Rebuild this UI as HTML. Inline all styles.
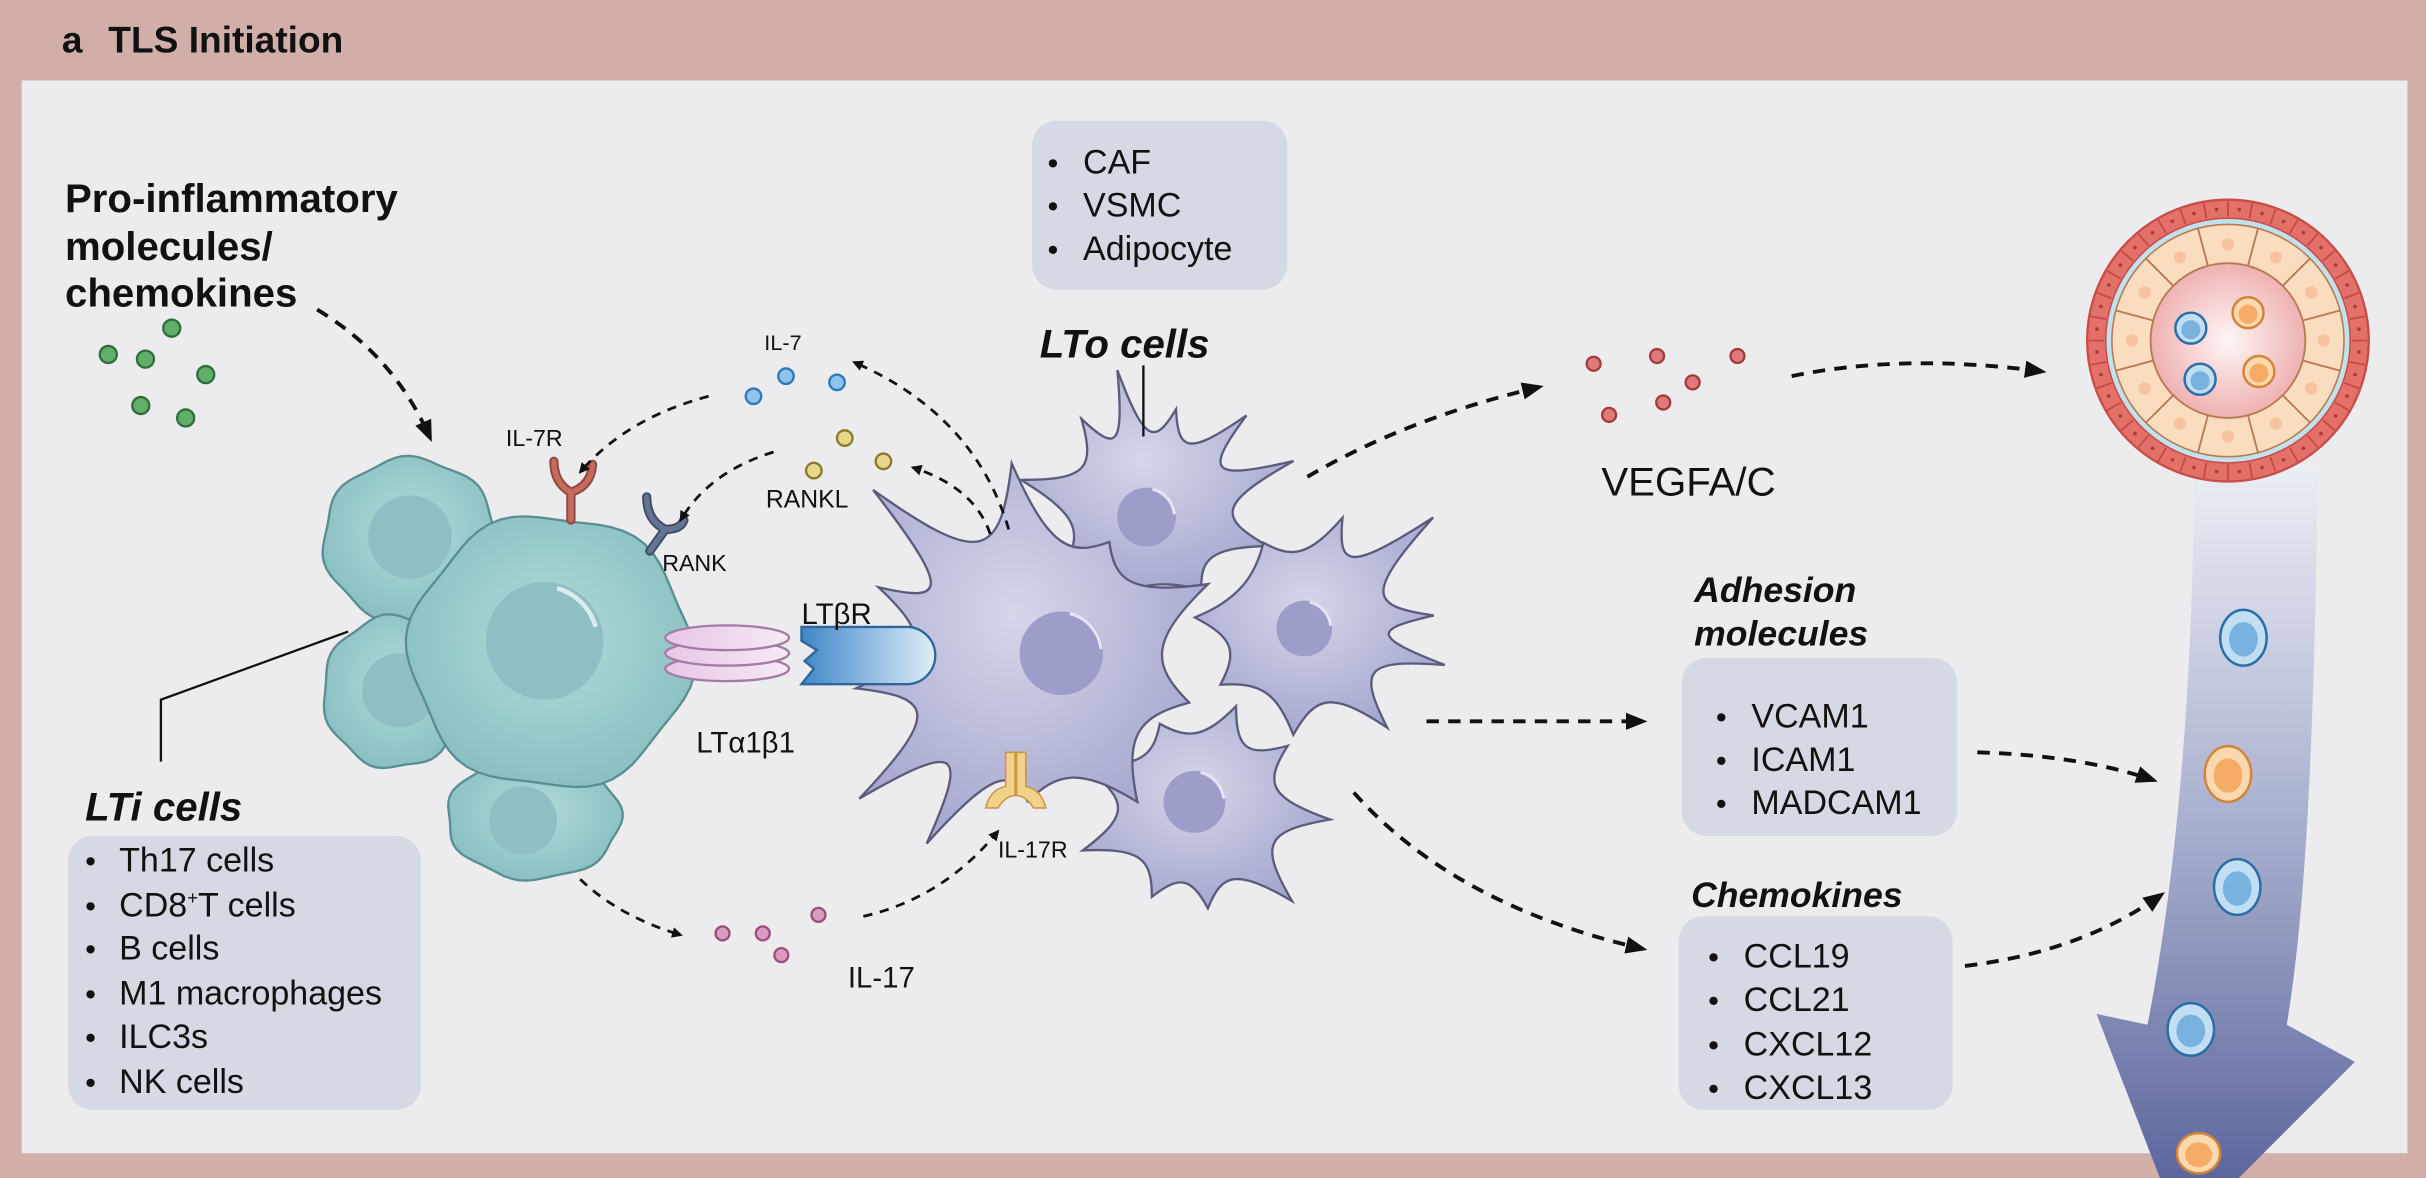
<!DOCTYPE html>
<html><head><meta charset="utf-8"><style>
html,body{margin:0;padding:0;background:#d2aea8;width:2426px;height:1178px;overflow:hidden;}
svg{display:block;}
text{font-family:"Liberation Sans",sans-serif;fill:#111;}
</style></head><body>
<svg id="s" width="2426" height="1178" viewBox="0 0 1568 761" preserveAspectRatio="none" xmlns="http://www.w3.org/2000/svg" overflow="hidden">
<defs>
<marker id="ah" viewBox="0 0 10 10" refX="8" refY="5" markerWidth="7" markerHeight="7" orient="auto" markerUnits="userSpaceOnUse"><path d="M0,0 L10,5 L0,10 z" fill="#111"/></marker>
<marker id="ahb" viewBox="0 0 10 10" refX="8" refY="5" markerWidth="14" markerHeight="14" orient="auto" markerUnits="userSpaceOnUse"><path d="M0,1 L10,5 L0,9 z" fill="#111"/></marker>
<radialGradient id="lto" cx="0.45" cy="0.4" r="0.6"><stop offset="0" stop-color="#d4d6ea"/><stop offset="1" stop-color="#a6a8cf"/></radialGradient>
<radialGradient id="lti" cx="0.5" cy="0.45" r="0.6"><stop offset="0" stop-color="#b3dbd9"/><stop offset="1" stop-color="#86bec0"/></radialGradient>
<linearGradient id="arr" x1="0" y1="0" x2="0" y2="1"><stop offset="0" stop-color="#eceef4"/><stop offset="0.5" stop-color="#a9b0cf"/><stop offset="1" stop-color="#5d679d"/></linearGradient>
<linearGradient id="ltb" x1="0" y1="0" x2="1" y2="0"><stop offset="0" stop-color="#3f86c8"/><stop offset="1" stop-color="#e0eef9"/></linearGradient>
<linearGradient id="ltp" x1="0" y1="0" x2="1" y2="0"><stop offset="0" stop-color="#e8c6e6"/><stop offset="1" stop-color="#f6eaf5"/></linearGradient>
<radialGradient id="lum" cx="0.5" cy="0.5" r="0.5"><stop offset="0" stop-color="#fff6f6"/><stop offset="1" stop-color="#efb1b1"/></radialGradient>
</defs>
<rect x="0" y="0" width="1568" height="761" fill="#d2aea8"/>
<rect x="14" y="52" width="1542" height="693" fill="#ecebee"/>
<text x="40" y="34" font-size="24" font-weight="bold">a</text><text x="70" y="34" font-size="24" font-weight="bold">TLS Initiation</text>

<text font-size="26" font-weight="bold"><tspan x="42" y="137">Pro-inflammatory</tspan><tspan x="42" y="168">molecules/</tspan><tspan x="42" y="198">chemokines</tspan></text>
<g fill="#5fae6a" stroke="#2f6e3a" stroke-width="1.5">
<circle cx="111" cy="212" r="5.5"/><circle cx="70" cy="229" r="5.5"/><circle cx="94" cy="232" r="5.5"/><circle cx="133" cy="242" r="5.5"/><circle cx="91" cy="262" r="5.5"/><circle cx="120" cy="270" r="5.5"/>
</g>
<path d="M205,200 Q255,230 278,283" fill="none" stroke="#111" stroke-width="2.5" stroke-dasharray="8 6" marker-end="url(#ahb)"/>

<g id="lticells" stroke="#5a8e91" stroke-width="1.5"></g>
<path d="M225,408 L104,452 L104,492" fill="none" stroke="#111" stroke-width="1.5"/>
<text x="55" y="530" font-size="26" font-weight="bold" font-style="italic">LTi cells</text>
<rect x="44" y="540" width="228" height="177" rx="16" fill="#d4d9e3"/>
<g font-size="22"><g font-size="20"><text x="55" y="563">•</text><text x="55" y="592">•</text><text x="55" y="620">•</text><text x="55" y="649">•</text><text x="55" y="677">•</text><text x="55" y="706">•</text></g>
<text x="77" y="563">Th17 cells</text><text x="77" y="592">CD8<tspan font-size="12" dy="-8">+</tspan><tspan dy="8">T cells</tspan></text><text x="77" y="620">B cells</text><text x="77" y="649">M1 macrophages</text><text x="77" y="677">ILC3s</text><text x="77" y="706">NK cells</text></g>

<path d="M369,336 L369,318 M369,318 Q358,312 358,298 M369,318 Q382,314 383,300" fill="none" stroke="#8c4a40" stroke-width="6" stroke-linecap="round"/>
<path d="M369,336 L369,318 M369,318 Q358,312 358,298 M369,318 Q382,314 383,300" fill="none" stroke="#c56a5c" stroke-width="3.5" stroke-linecap="round"/>
<path d="M420,356 L430,342 M430,342 Q418,336 418,321 M430,342 Q440,342 442,336" fill="none" stroke="#3e4c66" stroke-width="6" stroke-linecap="round"/>
<path d="M420,356 L430,342 M430,342 Q418,336 418,321 M430,342 Q440,342 442,336" fill="none" stroke="#637593" stroke-width="3.5" stroke-linecap="round"/>
<text x="327" y="288" font-size="15">IL-7R</text>
<text x="428" y="369" font-size="15">RANK</text>

<g id="ltocells" stroke="#5b5c7c" stroke-width="1.5"></g>
<path d="M650,486 L650,508 Q640,510 637,522 L645,522 Q650,514 656,514 L656,486 Z M663,486 L663,508 Q673,510 676,522 L668,522 Q663,514 657,514 L657,486 Z" fill="#f2d28a" stroke="#c69a3e" stroke-width="1"/>

<g fill="url(#ltp)" stroke="#a57ba6" stroke-width="1.5">
<ellipse cx="470" cy="432" rx="40" ry="8"/><ellipse cx="470" cy="422" rx="40" ry="8"/><ellipse cx="470" cy="412" rx="40" ry="8"/>
</g>
<path d="M518,405 L586,405 A18,18 0 0 1 586,442 L518,442 L526,432 L520,427 L528,420 L518,414 Z" fill="url(#ltb)" stroke="#2f6598" stroke-width="1.5"/>
<text x="518" y="403" font-size="19">LTβR</text>
<text x="450" y="486" font-size="19">LTα1β1</text>

<text x="494" y="226" font-size="14">IL-7</text>
<g fill="#8ec3ea" stroke="#2f79b8" stroke-width="1.5"><circle cx="487" cy="256" r="5"/><circle cx="508" cy="243" r="5"/><circle cx="541" cy="247" r="5"/></g>
<g fill="#e6d78a" stroke="#8a7a2a" stroke-width="1.5"><circle cx="526" cy="304" r="5"/><circle cx="546" cy="283" r="5"/><circle cx="571" cy="298" r="5"/></g>
<text x="495" y="328" font-size="16">RANKL</text>
<g fill="none" stroke="#111" stroke-width="1.8" stroke-dasharray="6 5">
<path d="M458,256 Q405,270 375,305" marker-end="url(#ah)"/>
<path d="M500,292 Q458,305 440,336" marker-end="url(#ah)"/>
<path d="M652,342 Q630,268 552,234" marker-end="url(#ah)"/>
<path d="M640,345 Q630,315 590,302" marker-end="url(#ah)"/>
<path d="M375,568 Q400,592 440,604" marker-end="url(#ah)"/>
<path d="M558,592 Q610,580 645,537" marker-end="url(#ah)"/>
</g>
<g fill="#d99bc0" stroke="#9a4f7a" stroke-width="1.5"><circle cx="467" cy="603" r="4.5"/><circle cx="493" cy="603" r="4.5"/><circle cx="505" cy="617" r="4.5"/><circle cx="529" cy="591" r="4.5"/></g>
<text x="548" y="638" font-size="19">IL-17</text>
<text x="645" y="554" font-size="15">IL-17R</text>

<rect x="667" y="78" width="165" height="109" rx="16" fill="#d4d9e3"/>
<g font-size="20"><text x="677" y="112">•</text><text x="677" y="140">•</text><text x="677" y="168">•</text></g>
<g font-size="22"><text x="700" y="112">CAF</text><text x="700" y="140">VSMC</text><text x="700" y="168">Adipocyte</text></g>
<text x="672" y="231" font-size="26" font-weight="bold" font-style="italic">LTo cells</text>
<path d="M739,236 L739,282" stroke="#111" stroke-width="1.5"/>

<g fill="#e07a7a" stroke="#a43a3a" stroke-width="1.5"><circle cx="1030" cy="235" r="4.5"/><circle cx="1071" cy="230" r="4.5"/><circle cx="1123" cy="230" r="4.5"/><circle cx="1094" cy="247" r="4.5"/><circle cx="1075" cy="260" r="4.5"/><circle cx="1040" cy="268" r="4.5"/></g>
<text x="1035" y="320" font-size="26">VEGFA/C</text>

<g fill="none" stroke="#111" stroke-width="2.5" stroke-dasharray="8 6">
<path d="M845,308 Q910,270 995,250" marker-end="url(#ahb)"/>
<path d="M1158,243 Q1230,228 1320,240" marker-end="url(#ahb)"/>
<path d="M922,466 L1062,466" marker-end="url(#ahb)"/>
<path d="M875,512 Q940,585 1062,613" marker-end="url(#ahb)"/>
<path d="M1278,486 Q1345,488 1392,504" marker-end="url(#ahb)"/>
<path d="M1270,624 Q1345,615 1397,578" marker-end="url(#ahb)"/>
</g>

<text font-size="23" font-weight="bold" font-style="italic"><tspan x="1095" y="389">Adhesion</tspan><tspan x="1095" y="417">molecules</tspan></text>
<rect x="1087" y="425" width="178" height="115" rx="16" fill="#d4d9e3"/>
<g font-size="20"><text x="1109" y="470">•</text><text x="1109" y="498">•</text><text x="1109" y="526">•</text></g>
<g font-size="22"><text x="1132" y="470">VCAM1</text><text x="1132" y="498">ICAM1</text><text x="1132" y="526">MADCAM1</text></g>
<text x="1093" y="586" font-size="23" font-weight="bold" font-style="italic">Chemokines</text>
<rect x="1085" y="592" width="177" height="125" rx="16" fill="#d4d9e3"/>
<g font-size="20"><text x="1104" y="625">•</text><text x="1104" y="653">•</text><text x="1104" y="682">•</text><text x="1104" y="710">•</text></g>
<g font-size="22"><text x="1127" y="625">CCL19</text><text x="1127" y="653">CCL21</text><text x="1127" y="682">CXCL12</text><text x="1127" y="710">CXCL13</text></g>

<path d="M1418,300 L1498,300 C1496,480 1490,590 1478,662 L1522,686 L1447,761 L1396,761 L1355,655 L1388,662 C1408,560 1418,430 1418,300 Z" fill="url(#arr)"/>
<g id="arrcells"></g>
<g id="vessel"></g>
</svg>
<script>
var NS="http://www.w3.org/2000/svg";
function el(p,t,a){var e=document.createElementNS(NS,t);for(var k in a)e.setAttribute(k,a[k]);p.appendChild(e);return e;}
function P(cx,cy,r,a){a=a*Math.PI/180;return [cx+r*Math.cos(a),cy+r*Math.sin(a)];}
function f(p){return p[0].toFixed(1)+","+p[1].toFixed(1);}
function spiky(cx,cy,tips,rb){
  var d="",n=tips.length;
  for(var i=0;i<n;i++){
    var a=tips[i],b=tips[(i+1)%n];var a1=a[0],a2=b[0];if(a2<=a1)a2+=360;var D=a2-a1;
    var t0=P(cx,cy,a[1],a1),t1=P(cx,cy,b[1],a2);
    var c1=P(cx,cy,rb,a1+Math.min(D*0.35,18)),c2=P(cx,cy,rb,a2-Math.min(D*0.35,18));
    if(i==0)d="M"+f(t0);
    d+=" C"+f(c1)+" "+f(c2)+" "+f(t1);
  }
  return d+"Z";
}
function wobble(cx,cy,rx,ry,n,amp,ph){
  var d="";for(var i=0;i<=72;i++){var a=i/72*2*Math.PI;var r=1+amp*Math.sin(n*a+ph);var x=cx+rx*r*Math.cos(a),y=cy+ry*r*Math.sin(a);d+=(i?"L":"M")+x.toFixed(1)+","+y.toFixed(1);}return d+"Z";
}
var g=document.getElementById("lticells");
[[265,349,56,53,0.3],[255,447,46,49,1],[345,528,56,40,2]].forEach(function(c){
  el(g,"path",{d:wobble(c[0],c[1],c[2],c[3],7,0.03,c[4]),fill:"url(#lti)"});
});
el(g,"circle",{cx:265,cy:347,r:27,fill:"#8fbfc2",stroke:"none"});
el(g,"circle",{cx:258,cy:446,r:24,fill:"#8fbfc2",stroke:"none"});
el(g,"circle",{cx:338,cy:530,r:22,fill:"#8fbfc2",stroke:"none"});
el(g,"path",{d:wobble(356,421,91,88,6,0.035,0.8),fill:"url(#lti)"});
el(g,"circle",{cx:352,cy:414,r:38,fill:"#8fbfc2",stroke:"none"});
el(g,"path",{d:"M360,380 A36,36 0 0 1 385,405",fill:"none",stroke:"#d8eeee","stroke-width":3});

var L=document.getElementById("ltocells");
function cell(cx,cy,tips,rb,nx,ny,nr){
  el(L,"path",{d:spiky(cx,cy,tips,rb),fill:"url(#lto)"});
  el(L,"circle",{cx:nx,cy:ny,r:nr,fill:"#9c9dc8",stroke:"none"});
  el(L,"path",{d:"M"+(nx+nr*0.2)+","+(ny-nr*0.95)+" A"+nr+","+nr+" 0 0 1 "+(nx+nr*0.95)+","+(ny-nr*0.1),fill:"none",stroke:"#e4e5f2","stroke-width":2});
}
cell(742,332,[[195,85],[235,75],[258,95],[285,70],[315,90],[340,100],[15,80],[55,60],[110,55],[150,60]],45,741,334,19);
cell(842,405,[[185,70],[245,60],[290,75],[320,110],[355,85],[15,95],[50,85],[95,70],[145,65]],45,843,406,18);
cell(775,522,[[200,80],[245,60],[290,70],[325,70],[5,85],[45,85],[85,65],[118,65],[160,80]],45,772,518,20);
cell(672,428,[[172,120],[205,115],[226,155],[262,130],[300,90],[335,120],[15,100],[55,110],[95,90],[122,138],[143,146]],72,686,422,27);

var V=document.getElementById("vessel");
var cx=1440,cy=220;
el(V,"circle",{cx:cx,cy:cy,r:91,fill:"#e3716a",stroke:"#c94c48","stroke-width":1.5});
for(var i=0;i<36;i++){var a=i*10;var p1=P(cx,cy,80,a),p2=P(cx,cy,90,a);el(V,"line",{x1:p1[0],y1:p1[1],x2:p2[0],y2:p2[1],stroke:"#c54a46","stroke-width":1.2});var pd=P(cx,cy,85,a+5);el(V,"circle",{cx:pd[0],cy:pd[1],r:1.2,fill:"#b33a38"});}
el(V,"circle",{cx:cx,cy:cy,r:79,fill:"#bfe2ec",stroke:"#c94c48","stroke-width":1});
el(V,"circle",{cx:cx,cy:cy,r:75,fill:"#fadcbe",stroke:"#b77a52","stroke-width":1});
el(V,"circle",{cx:cx,cy:cy,r:50,fill:"url(#lum)",stroke:"#b77a52","stroke-width":1.2});
for(var i=0;i<12;i++){var a=i*30+15;var p1=P(cx,cy,50,a),p2=P(cx,cy,75,a);el(V,"line",{x1:p1[0],y1:p1[1],x2:p2[0],y2:p2[1],stroke:"#b77a52","stroke-width":1.2});var pd=P(cx,cy,62,a+15);el(V,"circle",{cx:pd[0],cy:pd[1],r:4,fill:"#f7c2a2"});}
function blood(p,x,y,rx,ry,blue){
  el(p,"ellipse",{cx:x,cy:y,rx:rx,ry:ry,fill:blue?"#c2def2":"#fbd9ae",stroke:blue?"#2b6da6":"#d2843a","stroke-width":1.6});
  el(p,"ellipse",{cx:x,cy:y+1,rx:rx*0.62,ry:ry*0.62,fill:blue?"#7ab2df":"#f4ac66"});
}
blood(V,1416,212,10,10,true);blood(V,1422,245,10,10,true);blood(V,1453,202,10,10,false);blood(V,1460,240,10,10,false);
var A=document.getElementById("arrcells");
blood(A,1450,412,15,18,true);blood(A,1440,500,15,18,false);blood(A,1446,573,15,18,true);blood(A,1416,665,15,17,true);blood(A,1421,745,14,13,false);
</script>
</body></html>
